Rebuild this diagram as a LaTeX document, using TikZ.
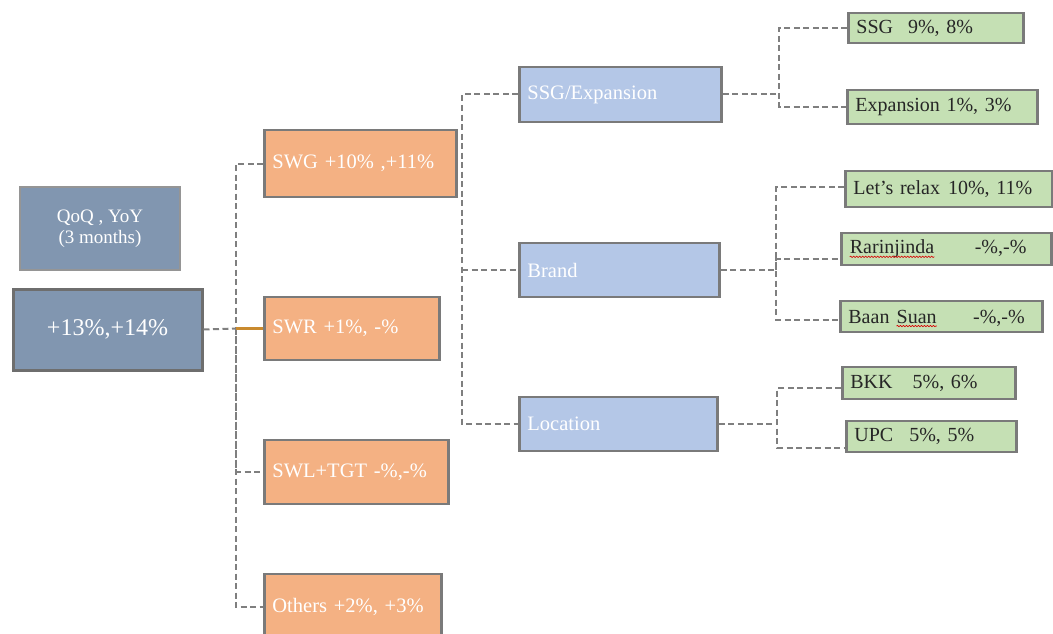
\documentclass[tikz,border=0pt]{standalone}
\usepackage{fontspec}
\setmainfont{Liberation Serif}
\usetikzlibrary{shadows,decorations.pathmorphing}

\definecolor{slate}{HTML}{8196B0}
\definecolor{peach}{HTML}{F4B183}
\definecolor{sky}{HTML}{B4C7E7}
\definecolor{leaf}{HTML}{C5E0B4}
\definecolor{edgegrey}{HTML}{7A7A7A}
\definecolor{dashgrey}{HTML}{7F7F7F}
\definecolor{amber}{HTML}{C98A2E}

\newcommand{\spellwave}[1]{\tikz[baseline=(w.base)]{\node[inner sep=0pt] (w) {#1};
  \draw[red!85!black, line width=.6pt, decorate, decoration={snake, amplitude=.7pt, segment length=3pt}]
    ([yshift=-3pt]w.base west) -- ([yshift=-3pt]w.base east);}}

\tikzset{
  tbox/.style={draw=edgegrey, line width=2.8pt, anchor=west, align=left,
    inner xsep=8pt, inner ysep=0pt},
  orangebox/.style={tbox, fill=peach, text=white, font=\fontsize{20.5}{23}\selectfont},
  bluebox/.style={tbox, fill=sky, text=white, font=\fontsize{20.5}{23}\selectfont},
  greenbox/.style={tbox, fill=leaf, text=black!85, font=\fontsize{20}{23}\selectfont},
  link/.style={draw=dashgrey, line width=2pt, dash pattern=on 6pt off 3.5pt},
}

\begin{document}
\begin{tikzpicture}[x=1pt, y=-1pt]
  \useasboundingbox (0,0) rectangle (1053,634);

  % left column
  \node[draw=edgegrey!80, line width=1.2pt, fill=slate, text=white!92, align=center,
    minimum width=160pt, minimum height=83pt, font=\fontsize{19}{21}\selectfont]
    (period) at (100,228.5) {QoQ , YoY\\(3 months)};
  \node[draw=edgegrey!90!black, line width=3pt, fill=slate, text=white!95,
    minimum width=189pt, minimum height=81pt, font=\fontsize{24}{27}\selectfont,
    drop shadow={shadow xshift=2pt, shadow yshift=-2pt, opacity=.35}]
    (total) at (107.5,329.5) {+13\%,+14\%};

  % segments
  \node[orangebox, text width=176pt, minimum height=67pt] (swg) at (263,163.5) {SWG +10\% ,+11\%};
  \node[orangebox, text width=159pt, minimum height=63pt] (swr) at (263,328.5) {SWR +1\%, -\%};
  \node[orangebox, text width=168pt, minimum height=64pt] (swl) at (263,472) {SWL+TGT -\%,-\%};
  \node[orangebox, text width=161pt, minimum height=66pt] (others) at (263,607) {Others +2\%, +3\%};

  % drivers
  \node[bluebox, text width=186pt, minimum height=55pt] (sse) at (518,94.5) {SSG/Expansion};
  \node[bluebox, text width=184pt, minimum height=54pt] (brand) at (518,270) {Brand};
  \node[bluebox, text width=182pt, minimum height=54pt] (loc) at (518,424) {Location};

  % details
  \node[greenbox, text width=159pt, minimum height=30pt] (ssg) at (847,28) {SSG\hspace{15pt}9\%, 8\%};
  \node[greenbox, text width=174pt, minimum height=34pt] (exp) at (846,107) {Expansion 1\%, 3\%};
  \node[greenbox, text width=191pt, minimum height=36pt] (relax) at (844,189) {Let’s relax\hspace{8pt}10\%, 11\%};
  \node[greenbox, text width=194pt, minimum height=32pt] (rari) at (840,249) {\spellwave{Rarinjinda}\hspace{40pt}-\%,-\%};
  \node[greenbox, text width=186pt, minimum height=31pt] (baan) at (839,316.5) {Baan \spellwave{Suan}\hspace{36pt}-\%,-\%};
  \node[greenbox, text width=157pt, minimum height=32pt] (bkk) at (841,383) {BKK\hspace{20pt}5\%, 6\%};
  \node[greenbox, text width=154pt, minimum height=31pt] (upc) at (845,436.5) {UPC\hspace{16pt}5\%, 5\%};

  \coordinate (j1) at (236,328.5);
  \coordinate (j2) at (462,270);
  \coordinate (j3) at (779,94.5);
  \coordinate (j4) at (776,270);
  \coordinate (j5) at (777,424);

  \draw[link] (total.east) -- (j1);
  \draw[link] (swg.west) -| (j1) |- (others.west);
  \draw[link] (j1) |- (swl.west);
  \draw[amber, line width=2.2pt] (j1) -- (swr.west);

  \draw[link] (sse.west) -| (j2) |- (loc.west);
  \draw[link] (j2) -- (brand.west);

  \draw[link] (sse.east) -- (j3);
  \draw[link] (ssg.west) -| (j3) |- (exp.west);

  \draw[link] (brand.east) -- (j4);
  \draw[link] ([yshift=2pt]relax.west) -| (j4) |- ([yshift=-3pt]baan.west);
  \draw[link] (j4) |- ([yshift=-10pt]rari.west);

  \draw[link] (loc.east) -- (j5);
  \draw[link] ([yshift=-5pt]bkk.west) -| (j5) |- ([yshift=-11pt]upc.west);
\end{tikzpicture}
\end{document}
